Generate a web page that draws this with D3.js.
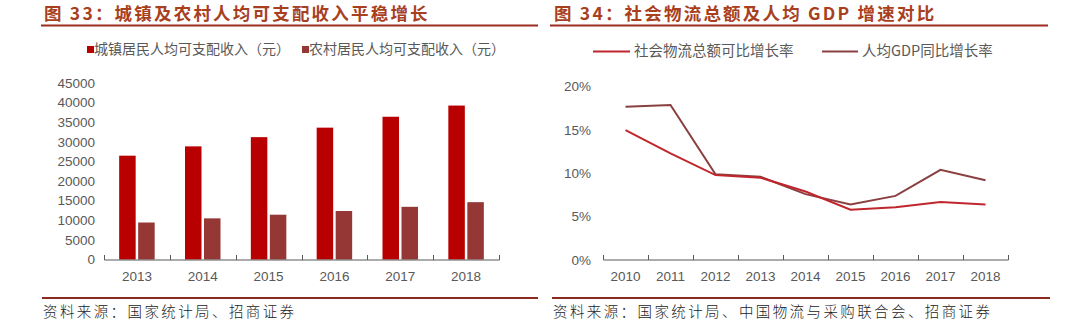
<!DOCTYPE html>
<html><head><meta charset="utf-8">
<script src="https://cdn.jsdelivr.net/npm/d3@7/dist/d3.min.js"></script>
<style>
body{margin:0;background:#fff;}
svg{display:block;}
</style></head>
<body><svg id="c" width="1080" height="328"></svg>
<script>
// Left chart data
const barYears = ["2013","2014","2015","2016","2017","2018"];
const urbanIncome = [26467, 28844, 31195, 33616, 36396, 39251];
const ruralIncome = [9430, 10489, 11422, 12363, 13432, 14617];
const barTicks = [0,5000,10000,15000,20000,25000,30000,35000,40000,45000];
const barSeriesNames = ["城镇居民人均可支配收入（元）","农村居民人均可支配收入（元）"];

// Right chart data
const lineYears = ["2010","2011","2012","2013","2014","2015","2016","2017","2018"];
const logisticsGrowth = [15.0, 12.3, 9.8, 9.5, 7.9, 5.8, 6.1, 6.7, 6.4];
const gdpPerCapitaGrowth = [17.7, 17.9, 9.9, 9.6, 7.6, 6.4, 7.4, 10.4, 9.2];
const lineTicks = [0,5,10,15,20];
const lineSeriesNames = ["社会物流总额可比增长率","人均GDP同比增长率"];

const titles = ["图 33：城镇及农村人均可支配收入平稳增长","图 34：社会物流总额及人均 GDP 增速对比"];
const sources = ["资料来源：国家统计局、招商证券","资料来源：国家统计局、中国物流与采购联合会、招商证券"];

const svg = d3.select("#c");
const CJK = "'Noto Sans CJK SC','Noto Sans',sans-serif";
const NUM = "'Liberation Sans',Arial,sans-serif";
const titleColor = "#a8401e";
const gray = "#595959";
const redBar = "#b90000", brownBar = "#953735";
const redLine = "#c0262d", brownLine = "#8a4040";

// Titles & rules
[[44, 41, 538], [554, 550, 1048]].forEach((p, i) => {
  svg.append("text").attr("x", p[0]).attr("y", 20)
    .attr("font-family", CJK).attr("font-weight", "bold").attr("font-size", 17.5)
    .attr("letter-spacing", 2.2)
    .attr("fill", titleColor).text(titles[i]);
  svg.append("line").attr("x1", p[1]).attr("x2", p[2]).attr("y1", 25.5).attr("y2", 25.5)
    .attr("stroke", "#9e2b20").attr("stroke-width", 1.8);
});
// Sources
[[42, 538], [552, 1050]].forEach((p, i) => {
  svg.append("line").attr("x1", p[0]).attr("x2", p[1]).attr("y1", 298).attr("y2", 298)
    .attr("stroke", "#8c2a22").attr("stroke-width", 1.8);
  svg.append("text").attr("x", p[0] + 1).attr("y", 317)
    .attr("font-family", CJK).attr("font-size", 14.5).attr("font-weight", 300)
    .attr("letter-spacing", 2.4)
    .attr("fill", "#222").text(sources[i]);
});

// ---------- Left: bar chart ----------
const xB = d3.scaleBand().domain(barYears).range([104, 499]);
const yB = d3.scaleLinear().domain([0, 45000]).range([259.5, 83]);
const gL = svg.append("g");
gL.selectAll(".yl").data(barTicks).join("text")
  .attr("x", 95).attr("y", d => yB(d)).attr("dy", "0.35em")
  .attr("text-anchor", "end").attr("font-family", NUM).attr("font-size", 13.5)
  .attr("fill", gray).text(d => d);
const bw = 16.5, gap = 2.5;
gL.selectAll(".u").data(urbanIncome).join("rect")
  .attr("x", (d, i) => xB(barYears[i]) + xB.bandwidth() / 2 - gap / 2 - bw)
  .attr("width", bw).attr("y", d => yB(d)).attr("height", d => yB(0) - yB(d))
  .attr("fill", redBar);
gL.selectAll(".r").data(ruralIncome).join("rect")
  .attr("x", (d, i) => xB(barYears[i]) + xB.bandwidth() / 2 + gap / 2)
  .attr("width", bw).attr("y", d => yB(d)).attr("height", d => yB(0) - yB(d))
  .attr("fill", brownBar);
const axB = d3.axisBottom(xB).tickSize(0).tickPadding(11);
const gxB = gL.append("g").attr("transform", "translate(0,260)").call(axB);
gxB.select(".domain").attr("stroke", gray).attr("d", "M104.5,0H499.5");
gxB.selectAll("text").attr("font-family", NUM).attr("font-size", 13.5).attr("fill", gray);
const bTickPos = barYears.map(d => xB(d)).concat([xB.range()[1]]);
gL.selectAll(".bt").data(bTickPos).join("line")
  .attr("x1", d => Math.round(d) + 0.5).attr("x2", d => Math.round(d) + 0.5)
  .attr("y1", 255).attr("y2", 260).attr("stroke", gray);
[[87, 95, redBar], [302, 310, brownBar]].forEach((p, i) => {
  gL.append("rect").attr("x", p[0]).attr("y", 46).attr("width", 7).attr("height", 7).attr("fill", p[2]);
  gL.append("text").attr("x", p[1] - 1).attr("y", 49.5).attr("dy", "0.35em")
    .attr("font-family", CJK).attr("font-size", 14).attr("fill", gray).text(barSeriesNames[i]);
});

// ---------- Right: line chart ----------
const xL = d3.scaleBand().domain(lineYears).range([603, 1008]);
const yL = d3.scaleLinear().domain([0, 20]).range([260, 86.7]);
const gR = svg.append("g");
gR.selectAll(".yl").data(lineTicks).join("text")
  .attr("x", 591).attr("y", d => yL(d)).attr("dy", "0.35em")
  .attr("text-anchor", "end").attr("font-family", NUM).attr("font-size", 13.5)
  .attr("fill", gray).text(d => d + "%");
const axL = d3.axisBottom(xL).tickSize(0).tickPadding(11);
const gxL = gR.append("g").attr("transform", "translate(0,260)").call(axL);
gxL.select(".domain").attr("stroke", gray).attr("d", "M603.5,0H1008.5");
gxL.selectAll("text").attr("font-family", NUM).attr("font-size", 13.5).attr("fill", gray);
const lTickPos = lineYears.map(d => xL(d)).concat([xL.range()[1]]);
gR.selectAll(".lt").data(lTickPos).join("line")
  .attr("x1", d => Math.round(d) + 0.5).attr("x2", d => Math.round(d) + 0.5)
  .attr("y1", 255).attr("y2", 260).attr("stroke", gray);
const line = d3.line().x((d, i) => xL(lineYears[i]) + xL.bandwidth() / 2).y(d => yL(d));
gR.append("path").datum(gdpPerCapitaGrowth).attr("d", line)
  .attr("fill", "none").attr("stroke", brownLine).attr("stroke-width", 2);
gR.append("path").datum(logisticsGrowth).attr("d", line)
  .attr("fill", "none").attr("stroke", redLine).attr("stroke-width", 2);
[[593, 630, 634, redLine], [822, 858, 862, brownLine]].forEach((p, i) => {
  gR.append("line").attr("x1", p[0]).attr("x2", p[1]).attr("y1", 51.5).attr("y2", 51.5)
    .attr("stroke", p[3]).attr("stroke-width", 2);
  gR.append("text").attr("x", p[2]).attr("y", 51).attr("dy", "0.35em")
    .attr("font-family", CJK).attr("font-size", 14.5).attr("fill", gray).text(lineSeriesNames[i]);
});
</script></body></html>
